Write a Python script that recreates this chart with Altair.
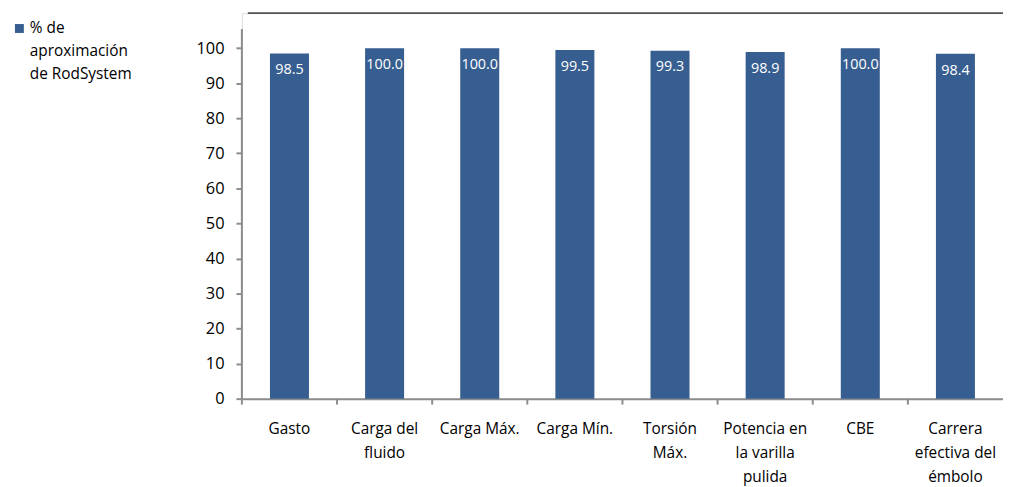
import altair as alt
import pandas as pd

categories = ["Gasto", "Carga del\nfluido", "Carga Máx.", "Carga Mín.", "Torsión\nMáx.",
              "Potencia en\nla varilla\npulida", "CBE", "Carrera\nefectiva del\némbolo"]
values = [98.5, 100.0, 100.0, 99.5, 99.3, 98.9, 100.0, 98.4]
series_name = "% de\naproximación\nde RodSystem"
y_ticks = [0, 10, 20, 30, 40, 50, 60, 70, 80, 90, 100]

df = pd.DataFrame({"cat": categories, "val": values})

FONT = "Open Sans"
BAR = "#375E91"
AXIS = "#8C8C8C"

x_scale = alt.Scale(paddingInner=0.59, paddingOuter=0.295)
x_axis = alt.Axis(title=None, labelAngle=0, ticks=False, domain=True,
                  domainColor=AXIS, domainWidth=2,
                  labelExpr="split(datum.label, '\\n')",
                  labelFont=FONT, labelFontSize=15.5, labelColor="black",
                  labelPadding=23, labelLineHeight=24.5, labelBaseline="top")
y_scale = alt.Scale(domain=[0, 110], nice=False)
y_axis = alt.Axis(title=None, values=y_ticks, grid=False, domain=False,
                  tickColor=AXIS, tickWidth=2, tickSize=6, labelOverlap=False,
                  labelFont=FONT, labelFontSize=16.5, labelColor="black",
                  labelPadding=12)

bars = alt.Chart(df).mark_bar(color=BAR).encode(
    x=alt.X("cat:N", sort=categories, scale=x_scale, axis=x_axis),
    y=alt.Y("val:Q", scale=y_scale, axis=y_axis)
)

labels = alt.Chart(df).mark_text(color="white", font=FONT, fontSize=14.5,
                                 baseline="middle", dy=17).encode(
    x=alt.X("cat:N", sort=categories, scale=x_scale, axis=x_axis),
    y=alt.Y("val:Q", scale=y_scale, axis=y_axis),
    text=alt.Text("val:Q", format=".1f")
)

xticks = alt.Chart(df).mark_rule(color=AXIS, strokeWidth=2, xOffset=-28.3).encode(
    x=alt.X("cat:N", sort=categories, scale=x_scale, axis=x_axis, bandPosition=0),
    y=alt.value(389), y2=alt.value(395)
)

yline = alt.Chart(pd.DataFrame({"a": [0]})).mark_rule(color=AXIS, strokeWidth=2).encode(
    x=alt.value(0), y=alt.datum(0, scale=y_scale, axis=y_axis), y2=alt.datum(105.5)
)

topline = alt.Chart(pd.DataFrame({"a": [0]})).mark_rule(color="#555555", strokeWidth=2).encode(
    x=alt.value(6), x2=alt.value(772), y=alt.datum(110, scale=y_scale, axis=y_axis)
)

legend_sym = alt.Chart(pd.DataFrame({"s": [series_name]})).mark_square(
    color=BAR, size=81, opacity=1).encode(
    x=alt.value(-224.5), y=alt.value(15.5)
)
legend_txt = alt.Chart(pd.DataFrame({"s": [series_name]})).mark_text(
    font=FONT, fontSize=15.5, color="black", align="left", baseline="middle",
    lineBreak="\n", lineHeight=23).encode(
    x=alt.value(-214), y=alt.value(15), text="s:N"
)

chart = alt.layer(bars, labels, xticks, yline, topline, legend_sym, legend_txt).properties(
    width=768, height=389,
    autosize=alt.AutoSizeParams(type="none"),
    padding={"left": 236, "top": 3, "right": 0, "bottom": 90},
).configure_view(stroke=None).configure(background="white")

chart.save("out.html", embed_options={"renderer": "svg", "actions": False})
